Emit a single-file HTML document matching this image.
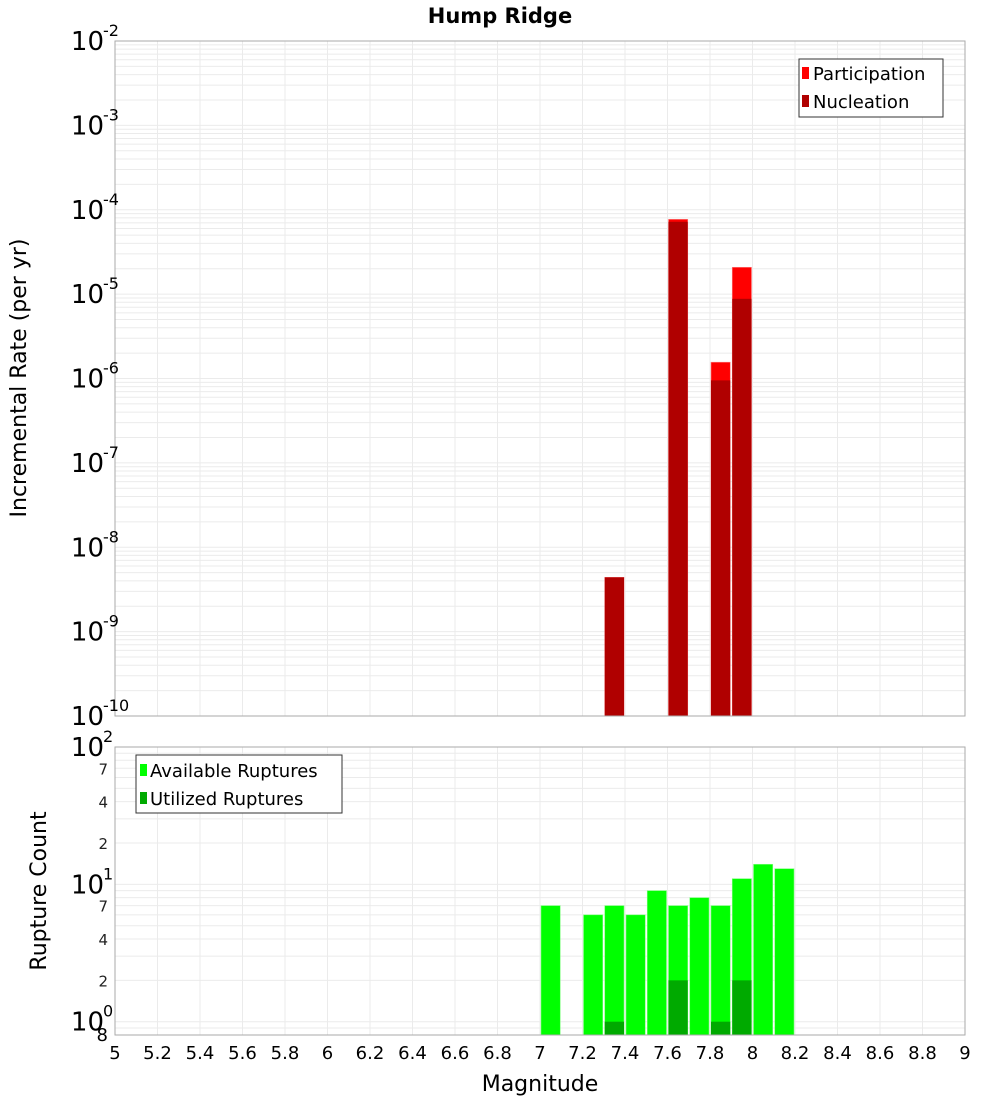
<!DOCTYPE html>
<html><head><meta charset="utf-8"><style>
body{margin:0;background:#fff;}
svg{display:block;font-family:"DejaVu Sans","Liberation Sans",sans-serif;}
</style></head><body>
<svg id="chart" width="1000" height="1100" xmlns="http://www.w3.org/2000/svg">
<text x="500" y="23" text-anchor="middle" font-size="21" font-weight="bold">Hump Ridge</text>
<g id="top"></g>
<g id="bot"></g>
<text transform="translate(26,378) rotate(-90)" text-anchor="middle" font-size="22">Incremental Rate (per yr)</text>
<text transform="translate(46,891) rotate(-90)" text-anchor="middle" font-size="22">Rupture Count</text>
<text x="540" y="1091" text-anchor="middle" font-size="22">Magnitude</text>
<g id="legends">
<g>
<rect x="799" y="59" width="144" height="58" fill="#fff" stroke="#333"/>
<rect x="802" y="67" width="7" height="12" fill="#ff0000"/>
<text x="813" y="80" font-size="18">Participation</text>
<rect x="802" y="95" width="7" height="12" fill="#b00000"/>
<text x="813" y="108" font-size="18">Nucleation</text>
</g>
<g>
<rect x="136" y="755" width="206" height="58" fill="#fff" stroke="#333"/>
<rect x="140" y="764" width="7" height="12" fill="#00ff00"/>
<text x="150" y="777" font-size="18">Available Ruptures</text>
<rect x="140" y="792" width="7" height="12" fill="#00aa00"/>
<text x="150" y="805" font-size="18">Utilized Ruptures</text>
</g>
</g>
</svg>
<script>
const rateMags=[7.35,7.65,7.85,7.95];
const participation=[4.4e-9,7.7e-5,1.56e-6,2.08e-5];
const nucleation=[4.4e-9,7.2e-5,9.5e-7,8.8e-6];
const countMags=[7.05,7.25,7.35,7.45,7.55,7.65,7.75,7.85,7.95,8.05,8.15];
const available=[7,6,7,6,9,7,8,7,11,14,13];
const utilizedMags=[7.35,7.65,7.85,7.95];
const utilized=[1,2,1,2];
const xTicks=[5,5.2,5.4,5.6,5.8,6,6.2,6.4,6.6,6.8,7,7.2,7.4,7.6,7.8,8,8.2,8.4,8.6,8.8,9];
const rateExps=[-2,-3,-4,-5,-6,-7,-8,-9,-10];
const countExps=[2,1,0];
const countMinor=[2,4,7];

const NS="http://www.w3.org/2000/svg";
const L=115,R=965;
const xs=m=>L+(m-5)/(9-5)*(R-L);
const T1=41,B1=716;
const y1=v=>B1-(Math.log10(v)+10)/8*(B1-T1);
const T2=747,B2=1035,lmin=Math.log10(0.8);
const y2=v=>B2-(Math.log10(v)-lmin)/(2-lmin)*(B2-T2);
function mk(p,tag,a){const e=document.createElementNS(NS,tag);for(const k in a)e.setAttribute(k,a[k]);p.appendChild(e);return e;}
const gTop=document.getElementById('top'),gBot=document.getElementById('bot');
const bw=(R-L)/40;

function frame(g,T,B,yf,minV,maxV){
  mk(g,'rect',{x:L,y:T,width:R-L,height:B-T,fill:'#fff'});
  for(const t of xTicks){const l=mk(g,'line',{x1:xs(t),x2:xs(t),y1:T,y2:B,stroke:'#ebebeb'});
    
    }
  for(let e=Math.floor(Math.log10(minV));e<Math.log10(maxV);e++){
    for(let k=1;k<10;k++){const v=k*Math.pow(10,e);if(v<minV||v>maxV)continue;
      const l=mk(g,'line',{x1:L,x2:R,y1:yf(v),y2:yf(v),stroke:'#ebebeb'});
      
      }}
}
frame(gTop,T1,B1,y1,1e-10,1e-2);
frame(gBot,T2,B2,y2,0.8,100);

rateMags.forEach((m,i)=>{
  const r=mk(gTop,'rect',{x:xs(m)-bw/2+1,y:y1(participation[i]),width:bw-2,height:B1-y1(participation[i]),fill:'#ff0000',stroke:'#ff8080','stroke-width':0.6});
  
  
  const n=mk(gTop,'rect',{x:xs(m)-bw/2+1,y:y1(nucleation[i]),width:bw-2,height:B1-y1(nucleation[i]),fill:'#b00000'});
  
  
});
countMags.forEach((m,i)=>{
  const r=mk(gBot,'rect',{x:xs(m)-bw/2+1,y:y2(available[i]),width:bw-2,height:B2-y2(available[i]),fill:'#00ff00',stroke:'#80ff80','stroke-width':0.6});
  
  
});
utilizedMags.forEach((m,i)=>{
  const r=mk(gBot,'rect',{x:xs(m)-bw/2+1,y:y2(utilized[i]),width:bw-2,height:B2-y2(utilized[i]),fill:'#00aa00'});
  
  
});
mk(gTop,'rect',{x:L,y:T1,width:R-L,height:B1-T1,fill:'none',stroke:'#aaa'});
mk(gBot,'rect',{x:L,y:T2,width:R-L,height:B2-T2,fill:'none',stroke:'#aaa'});

function powLabel(g,y,e,name){
  const t=mk(g,'text',{x:104,y:y+9,'text-anchor':'end','font-size':26});
  t.textContent='10';
  
  
  const s=mk(g,'text',{x:103,y:y-5,'font-size':16});
  s.textContent=String(e);
  
  
}
rateExps.forEach(e=>powLabel(gTop,y1(Math.pow(10,e)),e,'y-tick-rate'));
countExps.forEach(e=>powLabel(gBot,y2(Math.pow(10,e)),e,'y-tick-count'));
[1,10].forEach(d=>countMinor.forEach(k=>{
  const t=mk(gBot,'text',{x:108,y:y2(k*d)+6,'text-anchor':'end','font-size':15,fill:'#222'});
  t.textContent=String(k);
  
  
}));
{const t=mk(gBot,'text',{x:108,y:B2+6,'text-anchor':'end','font-size':18});t.textContent='8';
  
  }
xTicks.forEach(v=>{
  const t=mk(gBot,'text',{x:xs(v),y:1059,'text-anchor':'middle','font-size':18});
  t.textContent=String(v);
  
  
});
const svg=document.getElementById('chart');
svg.appendChild(document.getElementById('legends'));
</script>
</body></html>
